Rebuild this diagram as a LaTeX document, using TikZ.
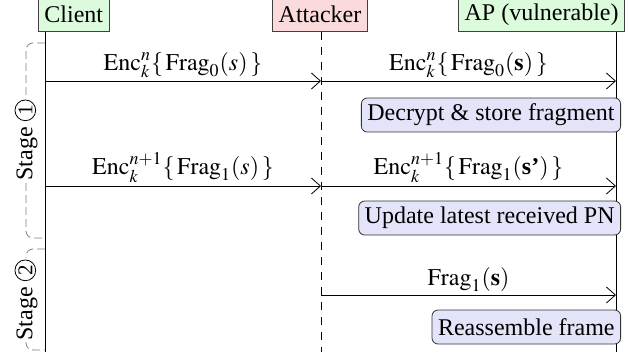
\documentclass[tikz,border=0pt]{standalone}
\usepackage{mathptmx}
\usepackage{fontspec}
\setmainfont{Liberation Serif}
\usetikzlibrary{calc,arrows.meta,positioning}
\definecolor{party}{HTML}{DCFADC}
\definecolor{rogue}{HTML}{FADADA}
\definecolor{action}{HTML}{E3E3FA}
\newcommand\stagenum[1]{\tikz[baseline=(sn.base)]\node[circle,draw,fill=none,inner sep=0.6pt,font=\fontsize{10.5}{10.5}\selectfont](sn){#1};}
\tikzset{
  actor/.style={draw=black!75, line width=0.4pt, minimum height=17pt, inner sep=3pt},
  task/.style={draw=black!80, fill=action, rounded corners=3pt, minimum height=17pt, inner sep=3pt, anchor=east},
  msg/.style={-{Straight Barb[length=4.5pt,width=8pt]}, line width=0.4pt},
  msglabel/.style={above, inner sep=1.5pt},
  bracket/.style={gray, dash pattern=on 4pt off 2pt, rounded corners=3.5pt, line width=0.4pt},
  stagelabel/.style={rotate=90, fill=white, inner sep=1pt},
}

\begin{document}
\begin{tikzpicture}[
      x=0.5pt,y=-0.5pt,
      every node/.style={font=\fontsize{12}{14}\selectfont},
      ]
      \useasboundingbox (0,0) rectangle (630,352);

      % parties
      \node (client) [actor, fill=party, anchor=south west] at (38,32) {Client};
      \node (attacker) [actor, fill=rogue, anchor=south] at (320,32) {Attacker};
      \node (ap) [actor, fill=party, anchor=south east] at (625,32) {AP (vulnerable)};

      \coordinate (clt) at ([xshift=3.5pt]client.south west);
      \coordinate (att) at ([xshift=0.5pt]attacker.south);
      \coordinate (apt) at ([xshift=-4.5pt]ap.south east);
      \coordinate (clb) at (clt |- 0,354);
      \coordinate (atb) at (att |- 0,354);
      \coordinate (apb) at (apt |- 0,354);

      \draw (clt) -- (clb);
      \draw[dash pattern=on 4pt off 3.5pt] (att) -- (atb);
      \draw (apt) -- (apb);

      \foreach \n/\y in {m1/81, m2/186, m3/295}{
        \coordinate (c-\n) at (clt |- 0,\y);
        \coordinate (a-\n) at (att |- 0,\y);
        \coordinate (p-\n) at (apt |- 0,\y);
      }

      % messages
      \draw[msg] (c-m1) -- node[msglabel]{$\mathrm{Enc}_k^n\{\,\mathrm{Frag}_0(s)\,\}$} (a-m1);
      \draw[msg] (a-m1) -- node[msglabel]{$\mathrm{Enc}_k^n\{\,\mathrm{Frag}_0(\mathbf{s})\,\}$} (p-m1);
      \draw[msg] (c-m2) -- node[msglabel]{$\mathrm{Enc}_k^{n+1}\{\,\mathrm{Frag}_1(s)\,\}$} (a-m2);
      \draw[msg] (a-m2) -- node[msglabel]{$\mathrm{Enc}_k^{n+1}\{\,\mathrm{Frag}_1(\textbf{s'})\,\}$} (p-m2);
      \draw[msg] (a-m3) -- node[msglabel]{$\mathrm{Frag}_1(\mathbf{s})$} (p-m3);

      % AP side
      \node (decrypt) [task] at (621,115) {Decrypt \& store fragment};
      \node (update) [task] at (621,218) {Update latest received PN};
      \node (reasm) [task] at (621,327) {Reassemble frame};

      % stages
      \coordinate (s1t) at (clt |- 0,43);
      \coordinate (s1b) at (clt |- 0,238);
      \coordinate (s2t) at (clt |- 0,249);
      \coordinate (s2b) at (clt |- 0,350);
      \coordinate (s1m) at (26,140);
      \coordinate (s2m) at (26,300);
      \draw[bracket] (s1t) -| (s1m) |- (s1b);
      \draw[bracket] (s2t) -| (s2m) |- (s2b);
      \node (stage1) [stagelabel] at (s1m) {Stage \stagenum{1}};
      \node (stage2) [stagelabel] at (s2m) {Stage \stagenum{2}};
    \end{tikzpicture}
\end{document}
